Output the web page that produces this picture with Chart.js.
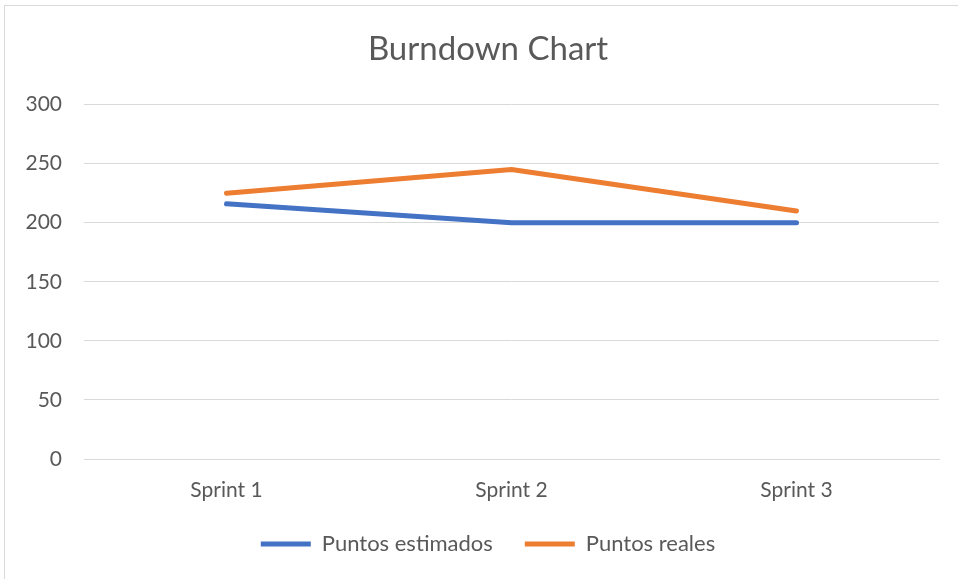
<!DOCTYPE html>
<html lang="es">
<head>
<meta charset="UTF-8">
<title>Burndown Chart</title>
<script src="https://cdn.jsdelivr.net/npm/chart.js@4.4.0/dist/chart.umd.min.js"></script>
<style>
  html, body { margin: 0; padding: 0; background: #fff; overflow: hidden; }
  /* marco gris del grafico (se sale por la derecha y por abajo) */
  .frame { position: absolute; left: 4px; top: 5px; width: 980px; height: 600px; border: 1px solid #d9d9d9; }
  /* el lienzo es algo mas ancho que la ventana: el grafico original esta recortado a la derecha */
  #chart { position: absolute; left: 0; top: 0; }
</style>
</head>
<body>
<div class="frame"></div>
<canvas id="chart" width="976" height="579"></canvas>
<script>
  const sprints = ['Sprint 1', 'Sprint 2', 'Sprint 3'];
  const puntosEstimados = [216, 200, 200];
  const puntosReales = [225, 245, 210];
  const yTicks = [0, 50, 100, 150, 200, 250, 300];

  const grey = '#595959';
  const tickFont = { family: 'Lato', size: 21 };

  const ctx = document.getElementById('chart').getContext('2d');

  // labels del eje Y en modo mirror (sin recorte), alineados a la derecha en x = 62
  ctx.font = tickFont.size + 'px ' + tickFont.family;
  const widest = Math.max(...yTicks.map(v => ctx.measureText(String(v)).width));

  const chart = new Chart(ctx, {
    type: 'line',
    data: {
      labels: sprints,
      datasets: [{
        label: 'Puntos estimados',
        data: puntosEstimados,
        borderColor: '#4472C4',
        backgroundColor: '#4472C4',
        borderWidth: 5,
        borderCapStyle: 'round',
        borderJoinStyle: 'round',
        pointRadius: 0,
        tension: 0
      }, {
        label: 'Puntos reales',
        data: puntosReales,
        borderColor: '#ED7D31',
        backgroundColor: '#ED7D31',
        borderWidth: 5,
        borderCapStyle: 'round',
        borderJoinStyle: 'round',
        pointRadius: 0,
        tension: 0
      }]
    },
    options: {
      responsive: false,
      animation: false,
      layout: { padding: { left: 37, right: 37, top: 0, bottom: 14 } },
      plugins: {
        title: {
          display: true,
          text: 'Burndown Chart',
          color: grey,
          font: { family: 'Lato', size: 33, weight: 400 },
          padding: { top: 30, bottom: 35 }
        },
        legend: {
          position: 'bottom',
          labels: {
            color: grey,
            font: { family: 'Lato', size: 22 },
            usePointStyle: true,
            pointStyle: 'line',
            pointStyleWidth: 50,
            padding: 32
          }
        },
        tooltip: { enabled: false }
      },
      scales: {
        x: {
          offset: true,
          grid: { display: false },
          border: { display: true, color: '#d9d9d9', width: 1 },
          ticks: { color: grey, font: tickFont, padding: 11 },
          afterFit: (s) => { s.height = 42; }
        },
        y: {
          min: 0,
          max: 300,
          afterBuildTicks: (s) => { s.ticks = yTicks.map(v => ({ value: v })); },
          grid: { color: '#d9d9d9', drawTicks: false },
          border: { display: false },
          ticks: { color: grey, font: tickFont, mirror: true, crossAlign: 'far', padding: -22 - widest },
          afterFit: (s) => { s.width = 47; }
        }
      }
    }
  });
</script>
</body>
</html>
